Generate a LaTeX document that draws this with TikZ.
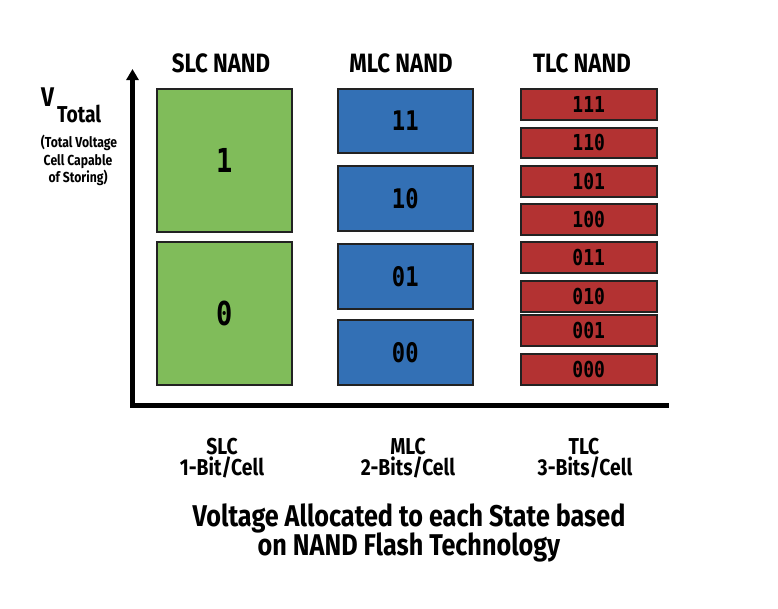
\documentclass[tikz,border=0pt]{standalone}
\usepackage{fontspec}
\setmainfont{Fira Sans}[FakeStretch=0.84]
\newfontfamily\digits{DejaVu Sans Mono}[FakeStretch=0.82]
\usetikzlibrary{arrows.meta}
\definecolor{slcgreen}{HTML}{80BC5A}
\definecolor{mlcblue}{HTML}{3370B5}
\definecolor{tlcred}{HTML}{B33232}
\definecolor{edge}{HTML}{222222}
\tikzset{
  cell/.style={draw=edge, line width=1.5pt, anchor=north west, inner sep=0pt},
  slc/.style={cell, fill=slcgreen, minimum width=135pt, minimum height=143pt, font=\digits\bfseries\fontsize{33}{33}\selectfont},
  mlc/.style={cell, fill=mlcblue, minimum width=135pt, minimum height=#1, font=\digits\bfseries\fontsize{27}{27}\selectfont},
  tlc/.style={cell, fill=tlcred, minimum width=136pt, minimum height=#1, font=\digits\bfseries\fontsize{22}{22}\selectfont},
  head/.style={anchor=base, font=\bfseries\fontsize{26.5}{26.5}\selectfont},
  foot/.style={anchor=base, font=\bfseries\fontsize{23}{23}\selectfont},
  title/.style={anchor=base, font=\bfseries\fontsize{30}{30}\selectfont},
  small/.style={anchor=base, font=\bfseries\fontsize{14.5}{14.5}\selectfont},
  axis/.style={line width=5pt, line join=miter, black}
}
\begin{document}
\begin{tikzpicture}[x=1pt,y=-1pt]
\useasboundingbox (0,0) rectangle (778,608);
% axes
\coordinate (top) at (132.5,69);
\coordinate (orig) at (132.5,405.5);
\coordinate (right) at (669,405.5);
\draw[axis, {Triangle[length=11pt,width=12pt]}-] (top) -- (orig) -- (right);
% headers
\node[head] (hs) at (221,72) {SLC NAND};
\node[head] (hm) at (401,72) {MLC NAND};
\node[head] (ht) at (582,72) {TLC NAND};
% y label
\node[anchor=base west, inner sep=0pt, font=\bfseries\fontsize{27}{27}\selectfont] (v) at (41,106) {V};
\node[anchor=base west, inner sep=0pt, font=\bfseries\fontsize{23}{23}\selectfont] (vt) at (57,122) {Total};
\node[small] (s1) at (79,147) {(Total Voltage};
\node[small] (s2) at (78,165) {Cell Capable};
\node[small] (s3) at (78,182) {of Storing)};
% SLC
\node[slc] (g1) at (156,88) {1};
\node[slc] (g0) at (156,241) {0};
% MLC
\node[mlc=64pt] (b11) at (337,88) {11};
\node[mlc=65pt] (b10) at (337,165) {10};
\node[mlc=65pt] (b01) at (337,243) {01};
\node[mlc=65pt] (b00) at (337,319) {00};
% TLC
\node[tlc=31pt] (r111) at (520,88) {111};
\node[tlc=30pt] (r110) at (520,127) {110};
\node[tlc=31pt] (r101) at (520,165) {101};
\node[tlc=31pt] (r100) at (520,203) {100};
\node[tlc=31pt] (r011) at (520,241) {011};
\node[tlc=31pt] (r010) at (520,280) {010};
\node[tlc=31pt] (r001) at (520,314) {001};
\node[tlc=31pt] (r000) at (520,353) {000};
% footers
\node[foot] (f1a) at (222,454) {SLC};
\node[foot] (f1b) at (222,475) {1-Bit/Cell};
\node[foot] (f2a) at (408,454) {MLC};
\node[foot] (f2b) at (408,475) {2-Bits/Cell};
\node[foot] (f3a) at (584,454) {TLC};
\node[foot] (f3b) at (585,475) {3-Bits/Cell};
\node[title] (t1) at (409,526) {Voltage Allocated to each State based};
\node[title] (t2) at (409,555) {on NAND Flash Technology};
\end{tikzpicture}
\end{document}
